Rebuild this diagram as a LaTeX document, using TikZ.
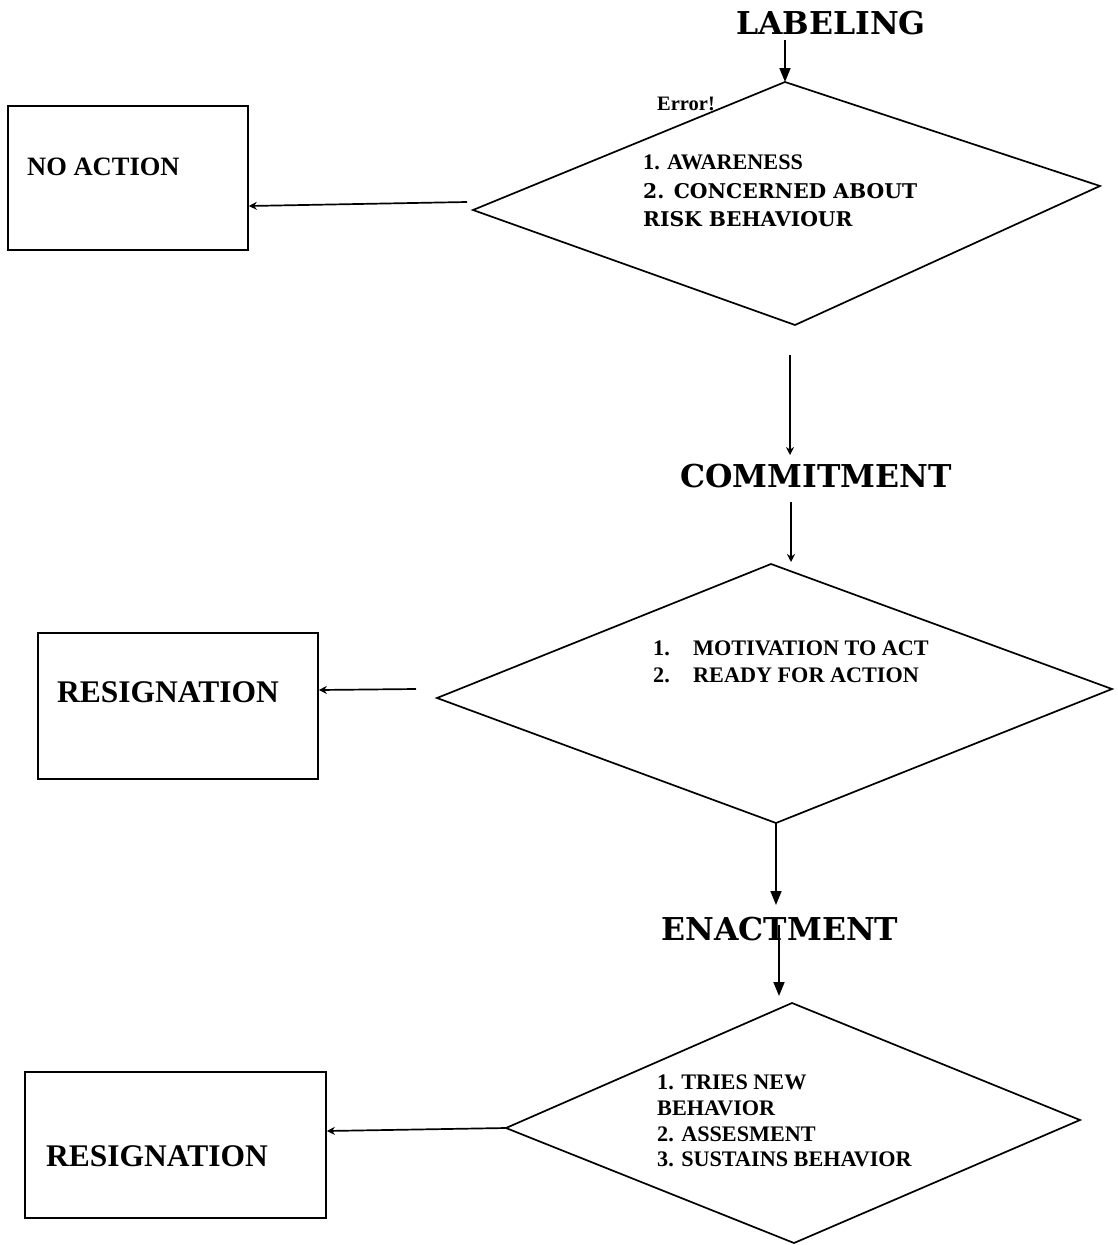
\documentclass[tikz,border=0pt]{standalone}
\usepackage{fontspec}
\setmainfont{Liberation Serif}
\newfontfamily\slab{DejaVu Serif}
\usetikzlibrary{arrows.meta}
\begin{document}
\begin{tikzpicture}[x=1pt,y=-1pt,
  shapeline/.style={line width=1.7pt},
  bigarrow/.style={line width=1.7pt,-{Triangle[length=14pt,width=11pt]}},
  smallarrow/.style={line width=1.7pt,-{Stealth[length=8pt,width=8pt]}},
  box/.style={draw,line width=1.7pt,rectangle,inner sep=0pt},
  head/.style={font=\slab\bfseries\fontsize{31.5}{31.5}\selectfont,inner sep=0pt,anchor=base},
  txt/.style={font=\bfseries\fontsize{22.2}{22.2}\selectfont,inner sep=0pt,anchor=base west},
  slabtxt/.style={font=\slab\bfseries\fontsize{20.3}{20.3}\selectfont,inner sep=0pt,anchor=base west},
  boxtxt/.style={font=\bfseries\fontsize{31.5}{31.5}\selectfont,inner sep=0pt,anchor=base west}]
\useasboundingbox (0,0) rectangle (1117,1245);

% headings
\node[head] (lab) at (831,34) {LABELING};
\node[head] (com) at (816,487) {COMMITMENT};
\node[head] (ena) at (780,940) {ENACTMENT};

% diamond 1
\coordinate (d1t) at (785,82);
\coordinate (d1l) at (473,210);
\coordinate (d1r) at (1100,186);
\coordinate (d1b) at (795,325);
\draw[shapeline] (d1t) -- (d1r) -- (d1b) -- (d1l) -- cycle;
\node[font=\bfseries\fontsize{20.5}{20.5}\selectfont,inner sep=0pt,anchor=base west] (err) at (657,110) {Error!};
\node[txt] (aw) at (643,169) {1. AWARENESS};
\node[slabtxt] (con) at (643,198) {2. CONCERNED ABOUT};
\node[slabtxt] (risk) at (643,226) {RISK BEHAVIOUR};

% box 1
\node[box,minimum width=240pt,minimum height=144pt] (noact) at (128,178) {};
\node[font=\bfseries\fontsize{26.5}{26.5}\selectfont,inner sep=0pt,anchor=base west] (noacttxt) at (27,175) {NO ACTION};

% diamond 2
\coordinate (d2t) at (771,564);
\coordinate (d2l) at (437,698);
\coordinate (d2r) at (1112,689);
\coordinate (d2b) at (776,823);
\draw[shapeline] (d2t) -- (d2r) -- (d2b) -- (d2l) -- cycle;
\node[txt] (m1) at (653,655) {1.};
\node[txt] (m1t) at (693,655) {MOTIVATION TO ACT};
\node[txt] (m2) at (653,682) {2.};
\node[txt] (m2t) at (693,682) {READY FOR ACTION};

% box 2
\node[box,minimum width=280pt,minimum height=146pt] (res1) at (178,706) {};
\node[boxtxt] (res1txt) at (57,702) {RESIGNATION};

% diamond 3
\coordinate (d3t) at (792,1003);
\coordinate (d3l) at (506,1128);
\coordinate (d3r) at (1080,1120);
\coordinate (d3b) at (794,1243);
\draw[shapeline] (d3t) -- (d3r) -- (d3b) -- (d3l) -- cycle;
\node[txt] (t1) at (657,1089) {1. TRIES NEW};
\node[txt] (t2) at (657,1115) {BEHAVIOR};
\node[txt] (t3) at (657,1141) {2. ASSESMENT};
\node[txt] (t4) at (657,1166) {3. SUSTAINS BEHAVIOR};

% box 3
\node[box,minimum width=301pt,minimum height=146pt] (res2) at (175.5,1145) {};
\node[boxtxt] (res2txt) at (46,1166) {RESIGNATION};

% connectors
\coordinate (a1s) at (785,40);
\draw[bigarrow] (a1s) -- (d1t);
\coordinate (a2s) at (467,202);
\draw[smallarrow] (a2s) -- (noact.east |- 0,206);
\coordinate (a3s) at (790,355);
\coordinate (a3e) at (790,455);
\draw[smallarrow] (a3s) -- (a3e);
\coordinate (a4s) at (791,502);
\draw[smallarrow] (a4s) -- (791,562);
\coordinate (a5s) at (416,689);
\draw[smallarrow] (a5s) -- (res1.east |- 0,690);
\coordinate (a6e) at (776,905);
\draw[bigarrow] (d2b) -- (a6e);
\coordinate (a7s) at (779,925);
\draw[bigarrow] (a7s) -- (779,996);
\draw[smallarrow] (d3l) -- (res2.east |- 0,1131);
\end{tikzpicture}
\end{document}
